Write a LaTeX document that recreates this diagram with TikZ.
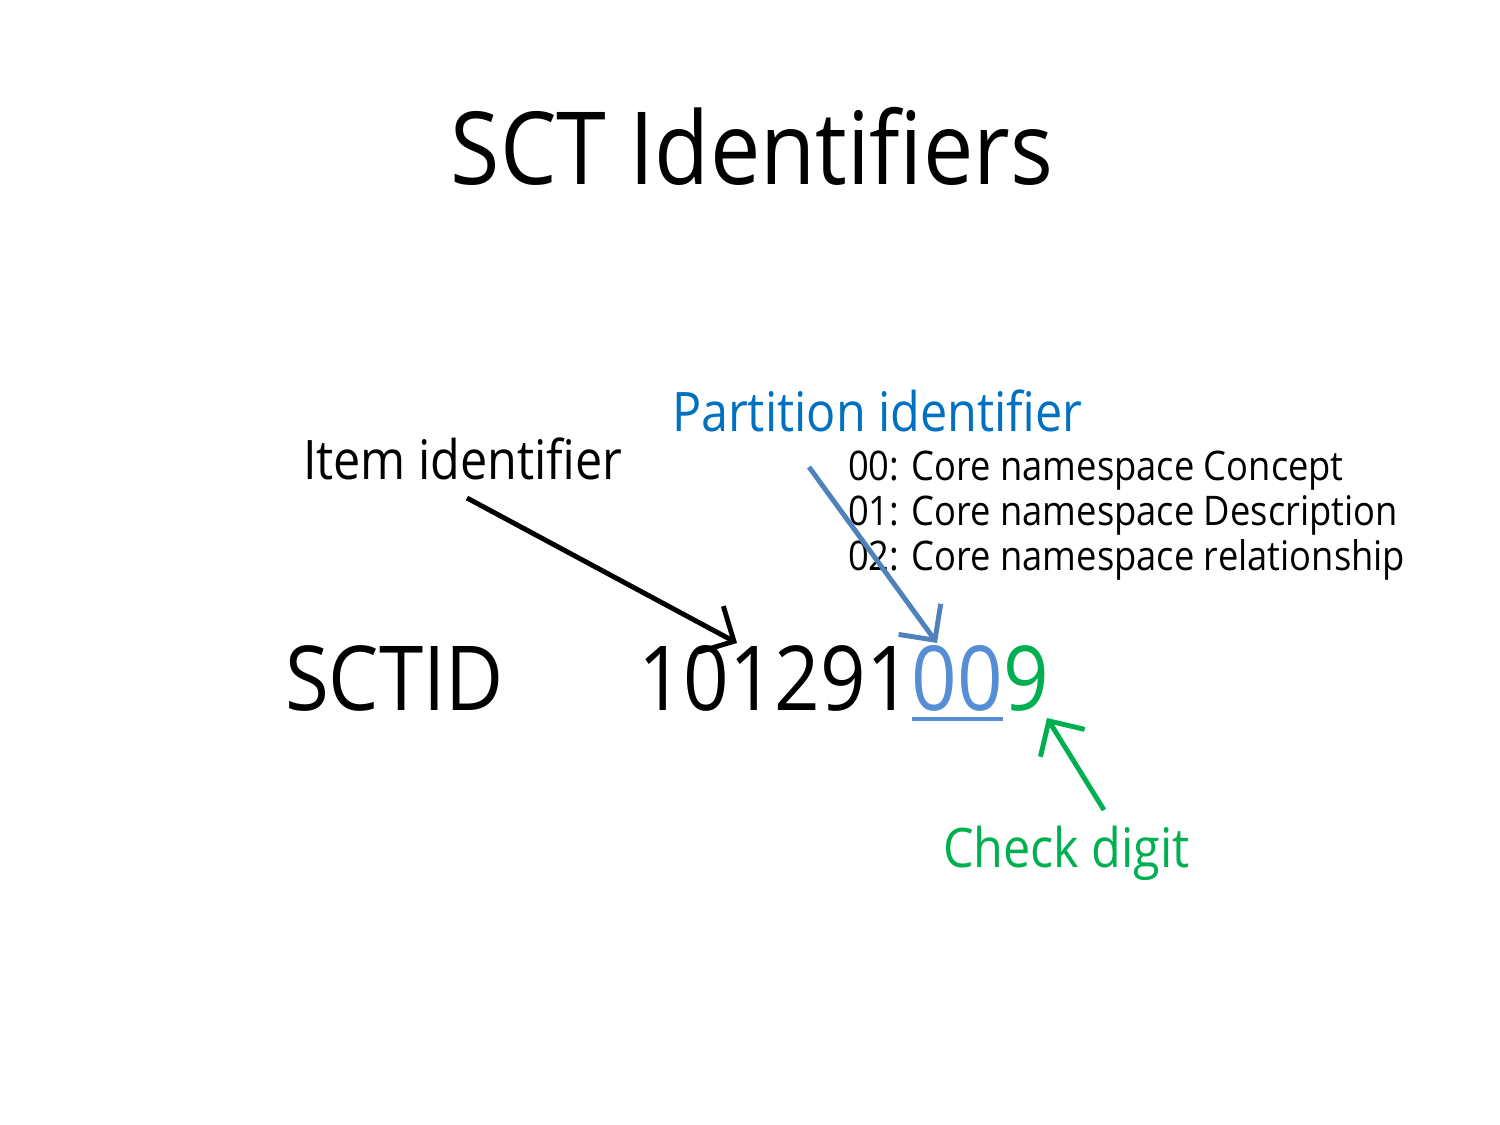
\documentclass[tikz,border=0pt]{standalone}
\usepackage{fontspec}
\setmainfont{Open Sans}[FakeStretch=0.89]
\usepackage{xcolor}
\definecolor{partblue}{RGB}{0,112,192}
\definecolor{digblue}{RGB}{85,142,213}
\definecolor{arrblue}{RGB}{79,129,189}
\definecolor{chkgreen}{RGB}{0,176,80}
\usetikzlibrary{positioning}
\usetikzlibrary{arrows.meta}
\begin{document}
\begin{tikzpicture}[x=0.01cm,y=-0.01cm,
  every node/.style={inner sep=0pt,outer sep=0pt,anchor=base west},
  lbl/.style={font=\fontsize{15.5}{18}\selectfont},
  bignum/.style={font=\fontsize{25.5}{30}\selectfont},
  ptr/.style={line width=1.4pt,-{Straight Barb[length=2.6mm,width=5.2mm]}}]
\useasboundingbox (0,0) rectangle (1500,1125);
% title
\node[anchor=base,font=\fontsize{28.7}{34}\selectfont] (title) at (752,185) {SCT Identifiers};
% labels
\node[lbl] (item) at (303,480) {Item identifier};
\node[lbl,text=partblue] (part) at (672,432) {Partition identifier};
\node[font=\fontsize{11.6}{12.8}\selectfont,align=left,anchor=north west] (codes) at (848,451)
  {00: Core namespace Concept\\01: Core namespace Description\\02: Core namespace relationship};
\node[lbl,text=chkgreen] (check) at (943,867) {Check digit};
% identifier
\node[bignum] (sctid) at (285,711) {SCTID};
\node[bignum] (itemid) at (638,711) {101291};
\node[bignum,text=digblue,right=0pt of itemid.base east,anchor=base west] (partid) {00};
\node[bignum,text=chkgreen,right=0pt of partid.base east,anchor=base west] (chk) {9};
\draw[digblue,line width=1.1pt] ([yshift=-0.8mm]partid.base west) -- ([yshift=-0.8mm]partid.base east);
% arrows
\coordinate (itemtail) at (467,498);
\coordinate (itemhead) at (737,643);
\coordinate (parttail) at (809,467);
\coordinate (parthead) at (937,643);
\coordinate (chktail) at (1104,810);
\coordinate (chkhead) at (1047,718);
\draw[ptr] (itemtail) -- (itemhead);
\draw[ptr,arrblue] (parttail) -- (parthead);
\draw[ptr,chkgreen] (chktail) -- (chkhead);
\end{tikzpicture}
\end{document}
